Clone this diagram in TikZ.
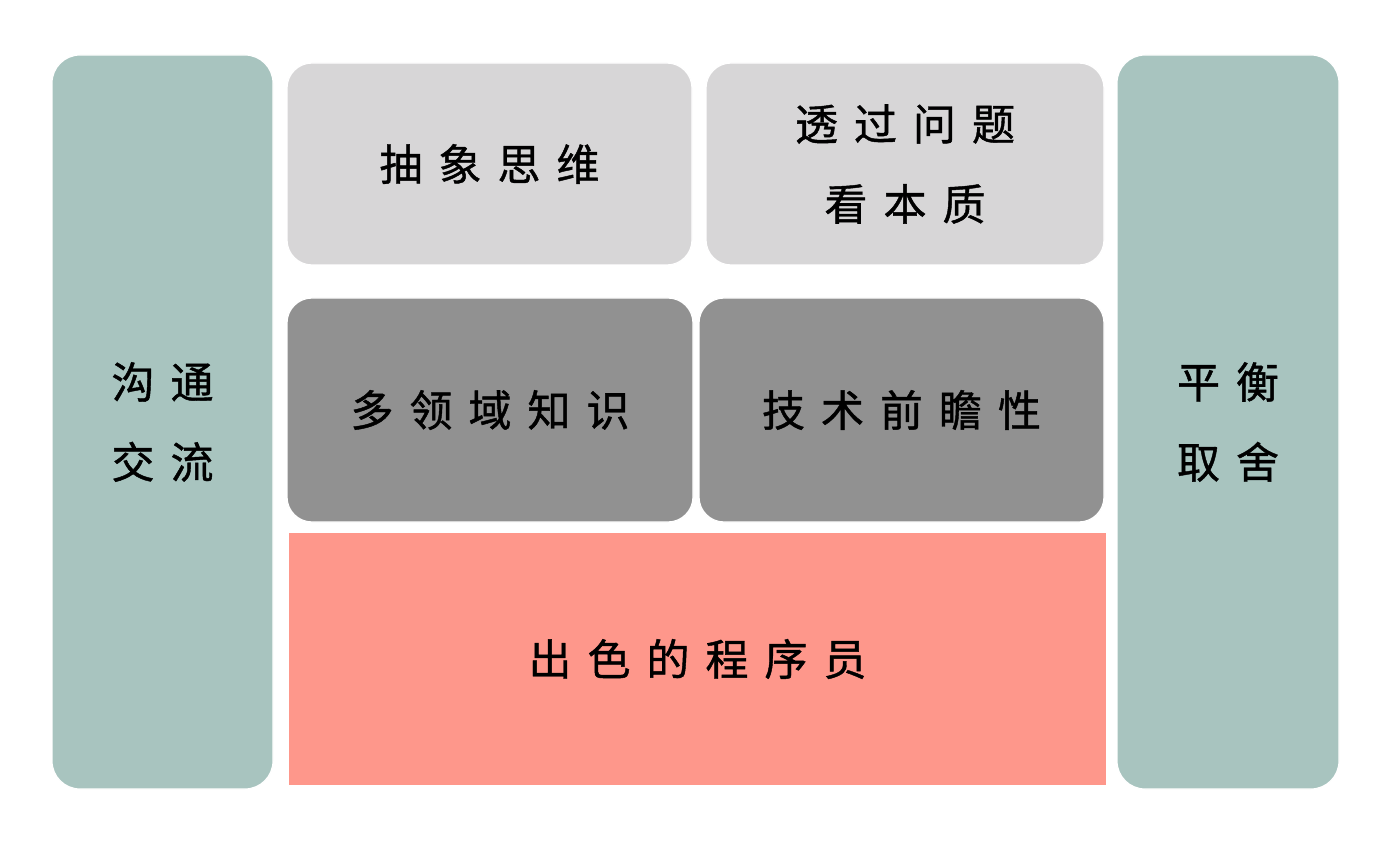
\documentclass[tikz,border=0pt]{standalone}
\usepackage{fontspec}
\newfontfamily\cjk[FakeBold=1]{Noto Sans CJK SC}
\newcommand\cg{\hspace{16pt}}
\definecolor{teal1}{HTML}{A8C4BF}
\definecolor{light1}{HTML}{D7D6D7}
\definecolor{dark1}{HTML}{919191}
\definecolor{salmon1}{HTML}{FE978B}
\tikzset{
  panel/.style={rectangle, inner sep=0pt, rounded corners=28pt, draw=white, line width=1.2pt,
    font=\cjk\fontsize{43}{80}\selectfont, align=center, text=black},
}
\begin{document}
\begin{tikzpicture}[x=1pt,y=-1pt]
\useasboundingbox[fill=white] (0,0) rectangle (1385,845);
\node[panel, fill=teal1, minimum width=221pt, minimum height=734pt] (comm) at (162.5,422) {沟\cg 通\\交\cg 流};
\node[panel, fill=teal1, minimum width=222pt, minimum height=734pt] (bal) at (1228,422) {平\cg 衡\\取\cg 舍};
\node[panel, fill=light1, rounded corners=25pt, minimum width=405pt, minimum height=202pt] (abs) at (489.5,164) {抽\cg 象\cg 思\cg 维};
\node[panel, fill=light1, rounded corners=25pt, minimum width=398pt, minimum height=202pt] (ess) at (905,164) {透\cg 过\cg 问\cg 题\\看\cg 本\cg 质};
\node[panel, fill=dark1, rounded corners=25pt, minimum width=406pt, minimum height=224pt] (dom) at (490,410) {多\cg 领\cg 域\cg 知\cg 识};
\node[panel, fill=dark1, rounded corners=25pt, minimum width=405pt, minimum height=224pt] (tech) at (901.5,410) {技\cg 术\cg 前\cg 瞻\cg 性};
\node[panel, fill=salmon1, sharp corners, draw=none, minimum width=817pt, minimum height=252pt] (prog) at (697.5,659) {出\cg 色\cg 的\cg 程\cg 序\cg 员};
\end{tikzpicture}
\end{document}
